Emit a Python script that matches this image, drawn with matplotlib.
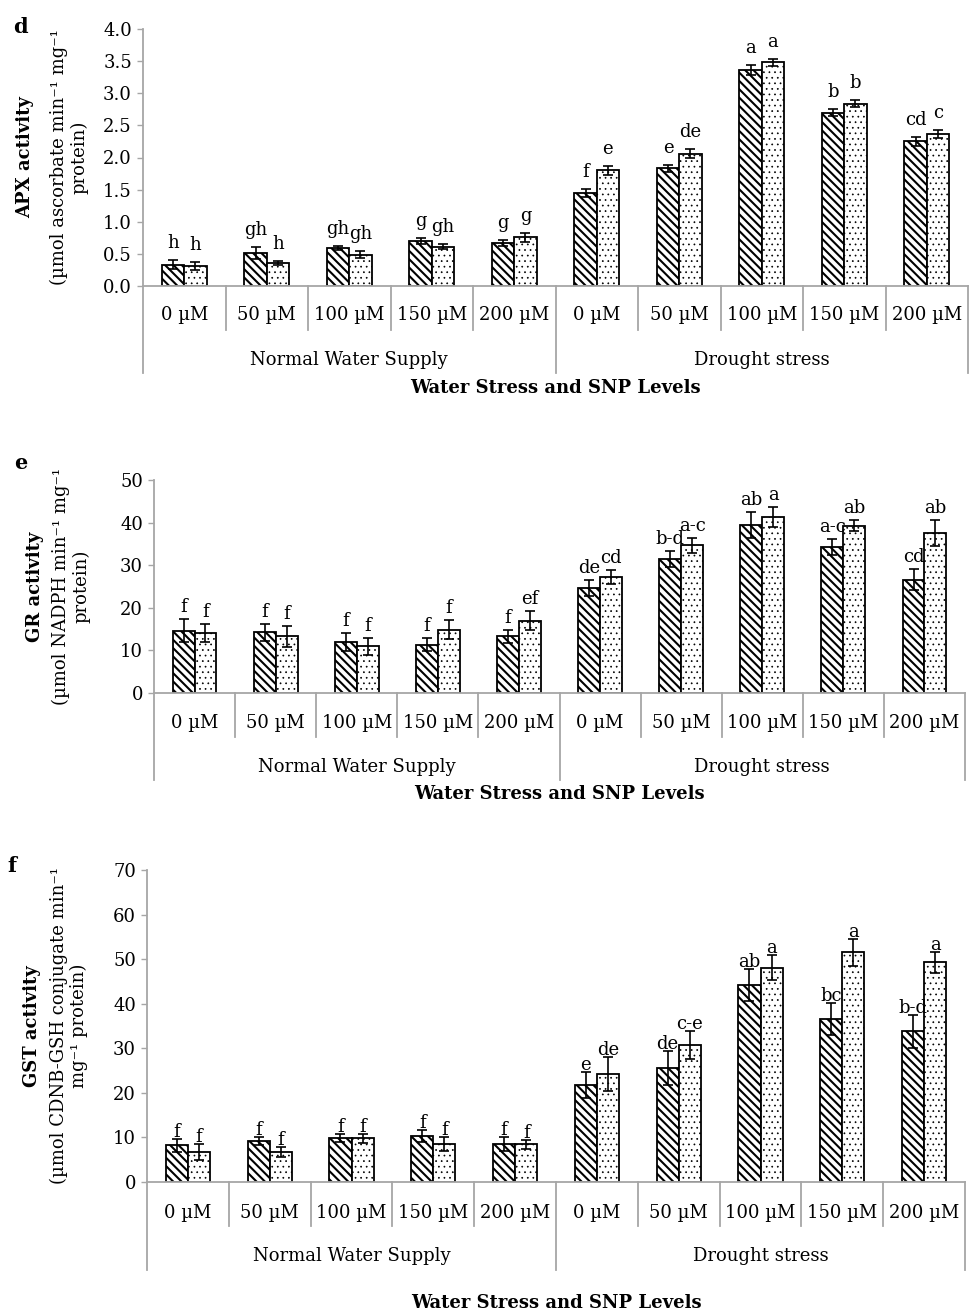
import matplotlib
matplotlib.use('Agg')
import matplotlib.pyplot as plt
import numpy as np

plt.rcParams['font.family'] = ['DejaVu Serif']
plt.rcParams['hatch.color'] = 'black'
plt.rcParams['hatch.linewidth'] = 1.5

# categorias
doses = ['0 µM', '50 µM', '100 µM', '150 µM', '200 µM'] * 2
grupos = ['Normal Water Supply', 'Drought stress']

# APX (d)
apx_hach = [0.33, 0.51, 0.59, 0.70, 0.67, 1.45, 1.83, 3.36, 2.70, 2.25]
apx_hach_err = [0.07, 0.09, 0.03, 0.05, 0.05, 0.06, 0.06, 0.08, 0.05, 0.07]
apx_pont = [0.31, 0.36, 0.49, 0.61, 0.76, 1.80, 2.06, 3.48, 2.84, 2.37]
apx_pont_err = [0.06, 0.03, 0.06, 0.04, 0.07, 0.07, 0.07, 0.06, 0.05, 0.06]
apx_let_hach = ['h', 'gh', 'gh', 'g', 'g', 'f', 'e', 'a', 'b', 'cd']
apx_let_pont = ['h', 'h', 'gh', 'gh', 'g', 'e', 'de', 'a', 'b', 'c']

# GR (e)
gr_hach = [14.6, 14.3, 12.0, 11.3, 13.3, 24.6, 31.4, 39.4, 34.3, 26.6]
gr_hach_err = [2.7, 2.0, 2.2, 1.5, 1.6, 1.9, 1.9, 3.0, 1.9, 2.4]
gr_pont = [14.0, 13.3, 11.0, 14.9, 17.0, 27.3, 34.7, 41.3, 39.3, 37.6]
gr_pont_err = [2.1, 2.4, 2.0, 2.3, 2.2, 1.6, 1.8, 2.3, 1.2, 3.0]
gr_let_hach = ['f', 'f', 'f', 'f', 'f', 'de', 'b-d', 'ab', 'a-c', 'cd']
gr_let_pont = ['f', 'f', 'f', 'f', 'ef', 'cd', 'a-c', 'a', 'ab', 'ab']

# GST (f)
gst_hach = [8.2, 9.2, 9.8, 10.3, 8.5, 21.7, 25.5, 44.3, 36.6, 33.8]
gst_hach_err = [1.4, 0.9, 0.9, 1.3, 1.5, 2.9, 3.8, 3.6, 3.6, 3.7]
gst_pont = [6.7, 6.7, 9.8, 8.6, 8.5, 24.2, 30.7, 48.1, 51.5, 49.3]
gst_pont_err = [1.8, 1.2, 1.0, 1.6, 1.0, 3.8, 3.2, 2.8, 3.1, 2.3]
gst_let_hach = ['f', 'f', 'f', 'f', 'f', 'e', 'de', 'ab', 'bc', 'b-d']
gst_let_pont = ['f', 'f', 'f', 'f', 'f', 'de', 'c-e', 'a', 'a', 'a']

W, H = 976, 1314
fig = plt.figure(figsize=(W / 100, H / 100), dpi=100)

cinza = '#a6a6a6'
largura = 0.27

paineis = [
    # letra, dados, caixa em pixels (esq, dir, topo, base), eixo y, rótulos
    dict(letra='d', hach=apx_hach, eh=apx_hach_err, pont=apx_pont, ep=apx_pont_err,
         lh=apx_let_hach, lp=apx_let_pont, box=(143, 968, 29, 286),
         ylim=4.0, passo=0.5, fmt='{:.1f}', off=8,
         titulo='APX activity', unid='(µmol ascorbate min⁻¹ mg⁻¹\nprotein)',
         xs=(25, 69), letra_xy=(20, 27), sep=(44, 87), txt=(29, 74), xt=102),
    dict(letra='e', hach=gr_hach, eh=gr_hach_err, pont=gr_pont, ep=gr_pont_err,
         lh=gr_let_hach, lp=gr_let_pont, box=(154, 965, 480, 693),
         ylim=50, passo=10, fmt='{:.0f}', off=3,
         titulo='GR activity', unid='(µmol NADPH min⁻¹ mg⁻¹\nprotein)',
         xs=(35, 71), letra_xy=(21, 463), sep=(44, 87), txt=(30, 74), xt=101),
    dict(letra='f', hach=gst_hach, eh=gst_hach_err, pont=gst_pont, ep=gst_pont_err,
         lh=gst_let_hach, lp=gst_let_pont, box=(147, 965, 870, 1182),
         ylim=70, passo=10, fmt='{:.0f}', off=-2,
         titulo='GST activity', unid='(µmol CDNB-GSH conjugate min⁻¹\nmg⁻¹ protein)',
         xs=(32, 69), letra_xy=(12, 866), sep=(44, 88), txt=(31, 74), xt=121),
]

x = np.arange(len(doses))

for p in paineis:
    esq, dir_, topo, base = p['box']
    ax = fig.add_axes([esq / W, 1 - base / H, (dir_ - esq) / W, (base - topo) / H])
    alt_px = base - topo

    b1 = ax.bar(x - largura / 2, p['hach'], largura, facecolor='white',
                edgecolor='black', hatch='\\\\\\\\', linewidth=1.3, zorder=2)
    # pontos finos
    with plt.rc_context({'hatch.linewidth': 0.5}):
        b2 = ax.bar(x + largura / 2, p['pont'], largura, facecolor='white',
                    edgecolor='black', hatch='...', linewidth=1.3, zorder=2)
    for r in b2:
        if hasattr(r, 'set_hatch_linewidth'):
            r.set_hatch_linewidth(0.5)
    ax.errorbar(x - largura / 2, p['hach'], yerr=p['eh'], fmt='none', ecolor='black',
                elinewidth=1.2, capsize=3.5, capthick=1.2, zorder=3)
    ax.errorbar(x + largura / 2, p['pont'], yerr=p['ep'], fmt='none', ecolor='black',
                elinewidth=1.2, capsize=3.5, capthick=1.2, zorder=3)

    # letras de significância
    for i in range(len(doses)):
        ax.annotate(p['lh'][i], (x[i] - largura / 2, p['hach'][i] + p['eh'][i]),
                    xytext=(0, p['off'] * 0.72), textcoords='offset points',
                    ha='center', va='bottom', fontsize=13)
        ax.annotate(p['lp'][i], (x[i] + largura / 2, p['pont'][i] + p['ep'][i]),
                    xytext=(0, p['off'] * 0.72), textcoords='offset points',
                    ha='center', va='bottom', fontsize=13)

    ax.set_xlim(-0.5, len(doses) - 0.5)
    ax.set_ylim(0, p['ylim'])
    ticks = np.arange(0, p['ylim'] + p['passo'] / 2, p['passo'])
    ax.set_yticks(ticks)
    ax.set_yticklabels([p['fmt'].format(t) for t in ticks], fontsize=13)
    ax.tick_params(axis='y', colors=cinza, length=4, width=1, labelcolor='black', pad=4)
    ax.set_xticks([])
    for s in ['top', 'right']:
        ax.spines[s].set_visible(False)
    for s in ['left', 'bottom']:
        ax.spines[s].set_color(cinza)
        ax.spines[s].set_linewidth(1.3)

    # eixo de categorias em dois níveis
    trans = ax.get_xaxis_transform()
    for k in range(len(doses) + 1):
        comprido = k in (0, 5, 10)
        comp = p['sep'][1] if comprido else p['sep'][0]
        ax.plot([k - 0.5, k - 0.5], [0, -comp / alt_px], color=cinza, lw=1.3,
                transform=trans, clip_on=False)
    for i, d in enumerate(doses):
        ax.text(i, -p['txt'][0] / alt_px, d, transform=trans, ha='center',
                va='center', fontsize=13)
    for g, nome in enumerate(grupos):
        ax.text(2 + 5 * g, -p['txt'][1] / alt_px, nome, transform=trans, ha='center',
                va='center', fontsize=13)
    ax.text(0.5, -p['xt'] / alt_px, 'Water Stress and SNP Levels', transform=ax.transAxes,
            ha='center', va='center', fontsize=13, fontweight='bold')

    # rótulo do eixo y
    ymeio = 1 - (topo + base) / 2 / H
    fig.text(p['xs'][0] / W, ymeio, p['titulo'], rotation=90, ha='center', va='center',
             fontsize=13, fontweight='bold')
    fig.text(p['xs'][1] / W, ymeio, p['unid'], rotation=90, ha='center', va='center',
             fontsize=13, multialignment='center', linespacing=1.15)
    fig.text(p['letra_xy'][0] / W, 1 - p['letra_xy'][1] / H, p['letra'], ha='center',
             va='center', fontsize=15, fontweight='bold')

fig.savefig('out.png', dpi=100)
